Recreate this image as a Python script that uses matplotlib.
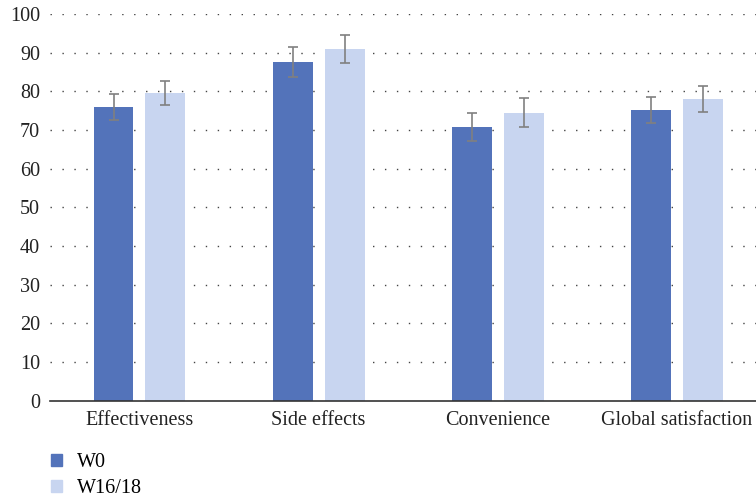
import matplotlib.pyplot as plt
import numpy as np
from matplotlib.patches import Patch

categories = ["Effectiveness", "Side effects", "Convenience", "Global satisfaction"]
w0_mean = [76.0, 87.6, 70.8, 75.2]
w0_err = [3.3, 4.0, 3.5, 3.3]
w16_mean = [79.6, 91.0, 74.5, 78.0]
w16_err = [3.2, 3.6, 3.7, 3.4]
yticks = list(range(0, 101, 10))

dark_blue = "#5373BA"
light_blue = "#C8D5F0"

plt.rcParams["font.family"] = ["Liberation Serif", "DejaVu Serif"]

fig = plt.figure(figsize=(7.56, 5.01), dpi=100)
ax = fig.add_axes([0.066, 0.2, 0.948, 0.772])

x = np.arange(len(categories))
width = 0.223
offset = 0.145
err_kw = dict(ecolor="#808080", elinewidth=1.2, capsize=3.5, capthick=1.2)
ax.bar(x - offset, w0_mean, width, yerr=w0_err, color=dark_blue, error_kw=err_kw, zorder=2)
ax.bar(x + offset, w16_mean, width, yerr=w16_err, color=light_blue, error_kw=err_kw, zorder=2)

ax.set_xlim(-0.5, len(categories) - 0.5)
ax.set_ylim(0, 100)
ax.set_yticks(yticks)
ax.set_xticks(x)
ax.set_xticklabels(categories)
ax.tick_params(axis="both", length=0, labelsize=14.5, colors="#222222", pad=7)
ax.tick_params(axis="x", pad=7)

# dotted horizontal gridlines
for t in yticks[1:]:
    ax.axhline(t, color="#444444", linewidth=1.0, linestyle=(0, (1, 7.6)), zorder=1)

for side in ["top", "right", "left"]:
    ax.spines[side].set_visible(False)
ax.spines["bottom"].set_color("#333333")
ax.spines["bottom"].set_linewidth(1.2)

handles = [Patch(color=dark_blue, label="W0"), Patch(color=light_blue, label="W16/18")]
fig.legend(handles=handles, loc="upper left", bbox_to_anchor=(0.054, 0.116),
           frameon=False, fontsize=14.5, handlelength=0.55, handleheight=0.55,
           handletextpad=0.75, labelspacing=0.35, borderpad=0)

fig.savefig("out.png", dpi=100)
